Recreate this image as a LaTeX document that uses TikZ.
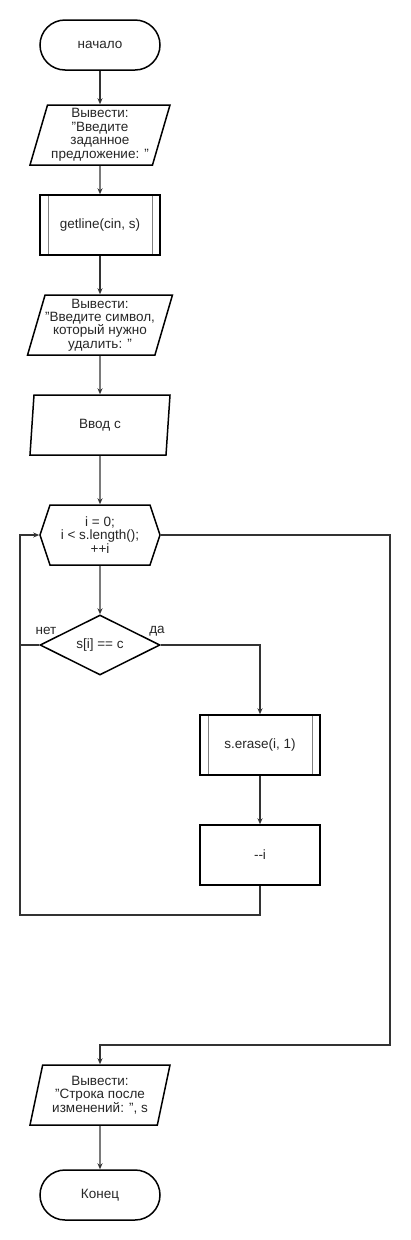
\documentclass[tikz,border=0pt]{standalone}
\usepackage{fontspec}
\setmainfont{Liberation Sans}
\usetikzlibrary{shapes.geometric,shapes.symbols,arrows.meta}

\tikzset{
  box/.style={draw=black,line width=1.5pt,inner sep=0pt,align=center,
    font=\fontsize{13.5}{13.5}\selectfont,text=black!85},
  term/.style={box,rectangle,rounded corners=25pt,minimum width=120pt,minimum height=50pt},
  io/.style={box,trapezium,trapezium left angle=71.57,trapezium right angle=108.43,
    trapezium stretches body,minimum width=140pt,minimum height=60pt},
  proc/.style={box,rectangle,minimum width=120pt,minimum height=60pt},
  subproc/.style={proc,path picture={
    \draw[gray,line width=1pt]
    ([xshift=8pt]path picture bounding box.north west) -- ([xshift=8pt]path picture bounding box.south west)
    ([xshift=-8pt]path picture bounding box.north east) -- ([xshift=-8pt]path picture bounding box.south east);}},
  loophex/.style={box,signal,signal to=west and east,signal pointer angle=143.13,
    minimum width=120pt,minimum height=60pt},
  decision/.style={box,diamond,aspect=2,minimum width=120pt,minimum height=60pt},
  link/.style={line width=1.3pt,black!80},
  flow/.style={link,-{Stealth[length=6pt,width=5pt]}},
  lbl/.style={font=\fontsize{13.5}{13.5}\selectfont,text=black!85,inner sep=0pt}
}

\begin{document}
\begin{tikzpicture}[x=1pt,y=-1pt]
  \useasboundingbox (0,0) rectangle (410,1240);
  % main column
  \node (start) at (100,45) [term] {начало};
  \node (out1) at (100,135) [io] {Вывести:\\"Введите\\заданное\\предложение: "};
  \node (getl) at (100,225) [subproc] {getline(cin, s)};
  \node (out2) at (100,325) [io] {Вывести:\\"Введите символ,\\который нужно\\удалить: "};
  \node (inc) at (100,425) [io] {Ввод c};
  \node (loop) at (100,535) [loophex] {i = 0;\\i < s.length();\\++i};
  \node (cond) at (100,645) [decision] {s[i] == c};
  % loop body
  \node (erase) at (260,745) [subproc] {s.erase(i, 1)};
  \node (dec) at (260,855) [proc] {-{}-i};
  % after the loop
  \node (out3) at (100,1095) [io] {Вывести:\\"Строка после\\изменений: ", s};
  \node (fin) at (100,1195) [term] {Конец};
  \node (no) at (46,631) [lbl] {нет};
  \node (yes) at (157,631) [lbl] {да};
  \coordinate (back) at (20,915);
  \coordinate (exit) at (390,1045);

  \draw[flow] (start) -- (out1);
  \draw[flow] (out1) -- (getl);
  \draw[flow] (getl) -- (out2);
  \draw[flow] (out2) -- (inc);
  \draw[flow] (inc) -- (loop);
  \draw[flow] (loop) -- (cond);
  \draw[flow] (cond.east) -| (erase.north);
  \draw[flow] (erase) -- (dec);
  \draw[flow] (dec.south) |- (back) |- (loop.west);
  \draw[link] (cond.west) -- (cond.west -| back);
  \draw[flow] (loop.east) -| (exit) -| (out3.north);
  \draw[flow] (out3) -- (fin);
\end{tikzpicture}
\end{document}
